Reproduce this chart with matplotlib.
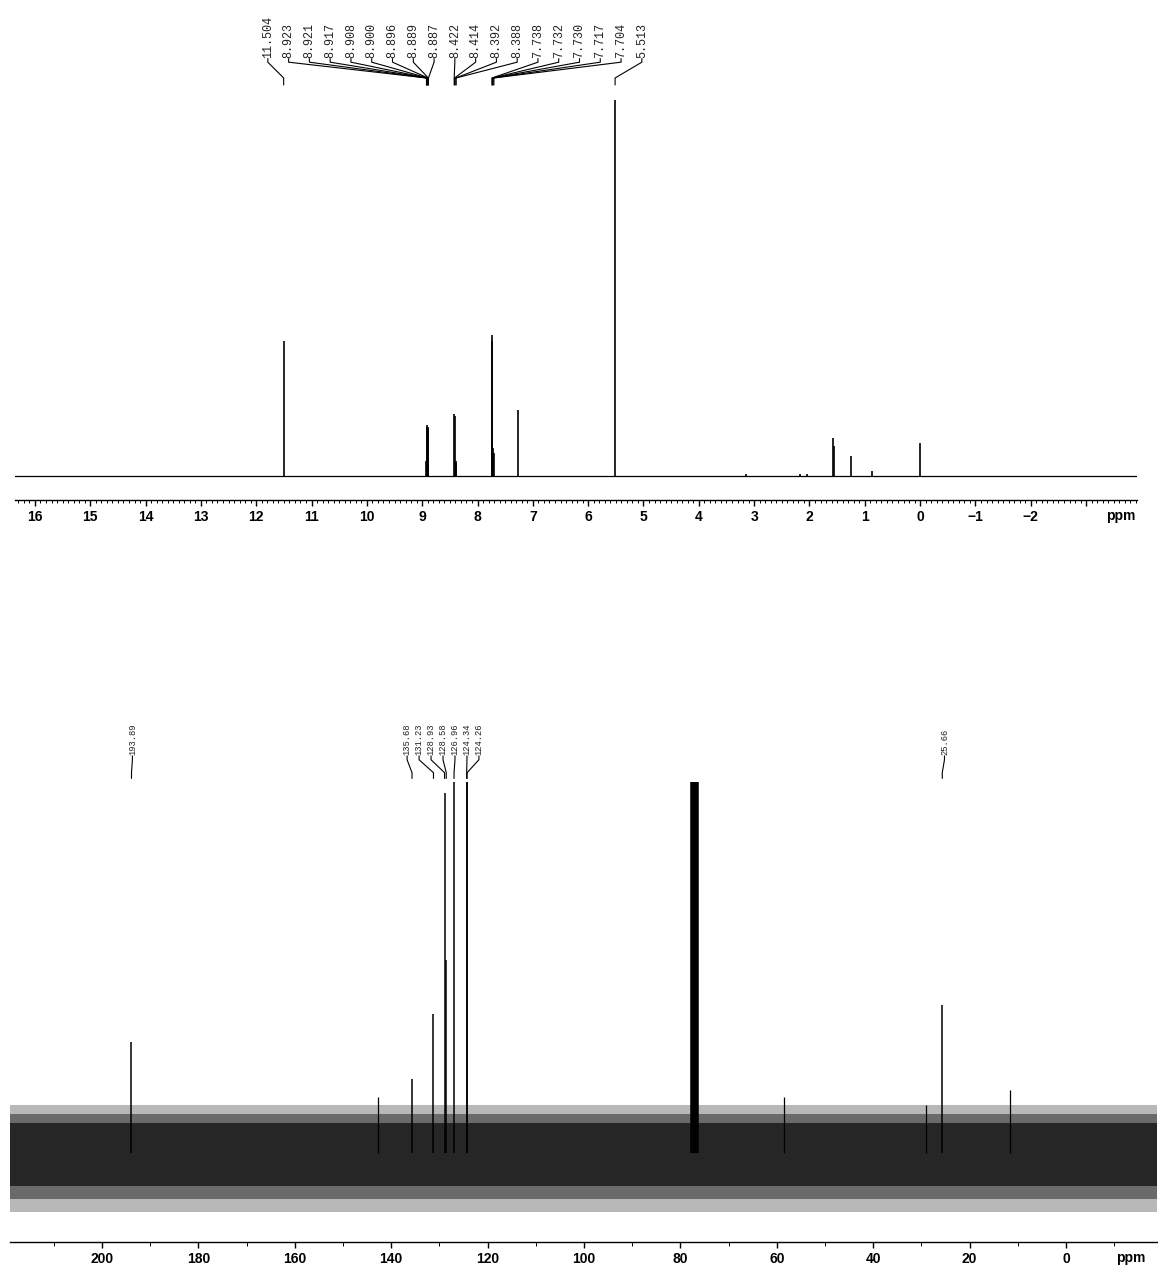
import numpy as np
import matplotlib.pyplot as plt
from matplotlib.ticker import MultipleLocator, FixedLocator

# 1H NMR: labelled peaks (ppm) and heights (tallest = 1)
h_shift = [11.504, 8.923, 8.921, 8.917, 8.908, 8.900, 8.896, 8.889, 8.887,
           8.422, 8.414, 8.392, 8.388, 7.738, 7.732, 7.730, 7.717, 7.704, 5.513]
h_height = [0.36, 0.04, 0.13, 0.135, 0.05, 0.05, 0.13, 0.125, 0.04,
            0.165, 0.16, 0.04, 0.035, 0.09, 0.375, 0.36, 0.075, 0.06, 1.0]
h_labels = ["11.504", "8.923", "8.921", "8.917", "8.908", "8.900", "8.896",
            "8.889", "8.887", "8.422", "8.414", "8.392", "8.388", "7.738",
            "7.732", "7.730", "7.717", "7.704", "5.513"]
# unlabelled signals (CHCl3, water, grease, TMS, small bumps)
h_other_shift = [7.262, 1.57, 1.55, 1.25, 0.87, 0.00, 2.17, 2.05, 3.15]
h_other_height = [0.175, 0.10, 0.08, 0.053, 0.012, 0.088, 0.006, 0.005, 0.005]

# 13C NMR
c_shift = [193.89, 135.68, 131.23, 128.93, 128.58, 126.96, 124.34, 124.26, 25.66]
c_height = [0.30, 0.20, 0.375, 0.97, 0.52, 1.0, 1.0, 1.0, 0.40]
c_labels = ["193.89", "135.68", "131.23", "128.93", "128.58", "126.96",
            "124.34", "124.26", "25.66"]
solvent_shift = [77.36, 77.04, 76.72]
solvent_height = [1.0, 1.0, 1.0]
c_other_shift = [142.7, 58.4, 29.0, 11.6]
c_other_height = [0.15, 0.15, 0.13, 0.17]
# noise band envelope (upper, lower) around the 13C baseline
noise_outer = (0.13, -0.16)
noise_mid = (0.105, -0.125)
noise_inner = (0.08, -0.09)

h_ticks = list(range(16, -4, -1))
h_ticklabels = [str(t).replace("-", "\u2212") for t in h_ticks[:-1]] + [""]
c_ticks = list(range(200, -1, -20))
c_ticklabels = [str(t) for t in c_ticks]

W, H = 1158, 1270
fig = plt.figure(figsize=(W / 100, H / 100), dpi=100)
tickfont = dict(family="Liberation Sans", weight="bold", size=10)


def style_axis(ax):
    for s in ["top", "left", "right"]:
        ax.spines[s].set_visible(False)
    ax.spines["bottom"].set_linewidth(1.0)
    ax.set_yticks([])
    ax.tick_params(axis="x", which="major", length=4, width=1, pad=3)
    ax.tick_params(axis="x", which="minor", length=2, width=0.7)
    for lab in ax.get_xticklabels():
        lab.set(**tickfont)


def draw_labels(ax, labels, peaks, label_x, y_txt, y_stub, y_diag, y_end, size):
    for lab, px, lx in zip(labels, peaks, label_x):
        ax.text(lx, y_txt, lab, rotation=90, ha="center", va="bottom",
                family="Liberation Mono", size=size, color="#222222")
        ax.plot([lx, lx, px, px], [y_txt - 0.003, y_stub, y_diag, y_end],
                color="black", lw=0.8, clip_on=False)


# ---------------- 1H spectrum ----------------
ax1 = fig.add_axes([15 / W, (H - 500) / H, (1137 - 15) / W, 498 / H])
ax1.set_xlim(16.36, -3.92)
ax1.set_ylim(-0.064, 1.26)
ax1.axhline(0, color="black", lw=0.9)
ax1.vlines(h_shift, 0, h_height, color="black", lw=1.2)
ax1.vlines(h_other_shift, 0, h_other_height, color="black", lw=1.2)
ax1.xaxis.set_major_locator(FixedLocator(h_ticks))
ax1.set_xticklabels(h_ticklabels)
ax1.xaxis.set_minor_locator(MultipleLocator(0.1))
style_axis(ax1)
ax1.annotate("ppm", xy=(-3.62, 0), xycoords=("data", "axes fraction"),
             xytext=(0, -14.5), textcoords="offset points",
             ha="center", va="baseline", **tickfont)

lx1 = np.linspace(11.79, 5.03, len(h_labels))
draw_labels(ax1, h_labels, h_shift, lx1, 1.112, 1.100, 1.058, 1.040, 8.5)

# ---------------- 13C spectrum ----------------
ax2 = fig.add_axes([10 / W, (H - 1242) / H, (1157 - 10) / W, (1242 - 690) / H])
ax2.set_xlim(219.1, -18.9)
ax2.set_ylim(-0.24, 1.248)
ax2.axhspan(noise_outer[1], noise_outer[0], color="#b8b8b8", lw=0)
ax2.axhspan(noise_mid[1], noise_mid[0], color="#6a6a6a", lw=0)
ax2.axhspan(noise_inner[1], noise_inner[0], color="#262626", lw=0)
ax2.vlines(c_shift, 0, c_height, color="black", lw=1.1)
ax2.vlines(solvent_shift, 0, solvent_height, color="black", lw=4)
ax2.vlines(c_other_shift, 0, c_other_height, color="black", lw=0.9)
ax2.xaxis.set_major_locator(FixedLocator(c_ticks))
ax2.set_xticklabels(c_ticklabels)
ax2.xaxis.set_minor_locator(MultipleLocator(10))
style_axis(ax2)
ax2.tick_params(axis="x", which="minor", length=3)
ax2.annotate("ppm", xy=(-13.5, 0), xycoords=("data", "axes fraction"),
             xytext=(0, -14.5), textcoords="offset points",
             ha="center", va="baseline", **tickfont)

lx2 = [193.7] + list(np.linspace(136.7, 121.8, 7)) + [25.2]
draw_labels(ax2, c_labels, c_shift, lx2, 1.073, 1.060, 1.025, 1.010, 6.3)

fig.savefig("out.png", dpi=100)
